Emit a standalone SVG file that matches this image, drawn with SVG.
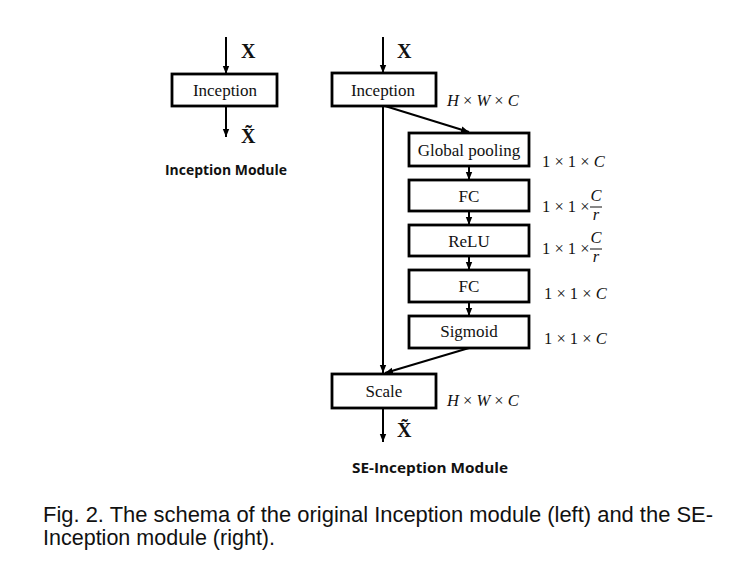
<svg xmlns="http://www.w3.org/2000/svg" width="732" height="575" viewBox="0 0 732 575">
<defs>
<marker id="ah" markerUnits="userSpaceOnUse" markerWidth="8" markerHeight="8" viewBox="0 0 8 8" refX="8" refY="4" orient="auto">
<path d="M0,0.8 L8,4 L0,7.2 Z" fill="#000"/>
</marker>
<style>
.box{fill:#fff;stroke:#000;stroke-width:2.8}
.lbl{font-family:"Liberation Serif","Times New Roman",serif;font-size:17px;fill:#111;text-anchor:middle}
.dim{font-family:"Liberation Serif","DejaVu Serif",serif;font-size:16.5px;fill:#111}
.it{font-style:italic}
.xl{font-family:"Liberation Serif","DejaVu Serif",serif;font-size:20px;font-weight:bold;fill:#111}
.title{font-family:"Open Sans","Liberation Sans",sans-serif;font-size:14.5px;font-weight:bold;fill:#111;text-anchor:middle}
.cap{font-family:"Liberation Sans",Arial,sans-serif;font-size:22px;fill:#111}
.ln{stroke:#000;stroke-width:2;fill:none}
</style>
</defs>
<rect width="732" height="575" fill="#fff"/>

<g id="connectors">
<line class="ln" x1="226" y1="37" x2="226" y2="74" marker-end="url(#ah)"/>
<line class="ln" x1="226" y1="106" x2="226" y2="137" marker-end="url(#ah)"/>
<line class="ln" x1="383" y1="37" x2="383" y2="73" marker-end="url(#ah)"/>
<line class="ln" x1="383" y1="106" x2="383" y2="373" marker-end="url(#ah)"/>
<line class="ln" x1="385" y1="106" x2="469" y2="132" marker-end="url(#ah)"/>
<line class="ln" x1="469" y1="166" x2="469" y2="180" marker-end="url(#ah)"/>
<line class="ln" x1="469" y1="211" x2="469" y2="225" marker-end="url(#ah)"/>
<line class="ln" x1="469" y1="256" x2="469" y2="270" marker-end="url(#ah)"/>
<line class="ln" x1="469" y1="302" x2="469" y2="316" marker-end="url(#ah)"/>
<line class="ln" x1="469" y1="348" x2="385" y2="373" marker-end="url(#ah)"/>
<line class="ln" x1="383" y1="408" x2="383" y2="442" marker-end="url(#ah)"/>
</g>

<g id="left-x">
<text class="xl" x="241" y="58">X</text>
<text class="xl" x="241" y="143">X̃</text>
</g>

<g id="inception-left">
<rect class="box" x="172" y="74" width="105" height="32"/>
<text class="lbl" x="225" y="96">Inception</text>
</g>
<text class="title" x="226" y="175" textLength="122" lengthAdjust="spacingAndGlyphs">Inception Module</text>

<g id="right-x">
<text class="xl" x="397" y="58">X</text>
<text class="xl" x="397" y="437">X̃</text>
</g>

<g id="inception-right">
<rect class="box" x="332" y="73" width="104" height="33"/>
<text class="lbl" x="383" y="96">Inception</text>
<text class="dim" x="447" y="106"><tspan class="it">H</tspan> × <tspan class="it">W</tspan> × <tspan class="it">C</tspan></text>
</g>

<g id="global-pooling">
<rect class="box" x="409" y="133" width="120" height="33"/>
<text class="lbl" x="469" y="156">Global pooling</text>
<text class="dim" x="542" y="167">1 × 1 × <tspan class="it">C</tspan></text>
</g>

<g id="fc1">
<rect class="box" x="409" y="180" width="120" height="31"/>
<text class="lbl" x="469" y="202">FC</text>
<text class="dim" x="542" y="212">1 × 1 ×</text>
<text class="dim it" x="596" y="201" text-anchor="middle">C</text>
<line x1="590" y1="207" x2="602" y2="207" stroke="#111" stroke-width="1"/>
<text class="dim it" x="596" y="220" text-anchor="middle">r</text>
</g>

<g id="relu">
<rect class="box" x="409" y="225" width="120" height="31"/>
<text class="lbl" x="469" y="247">ReLU</text>
<text class="dim" x="542" y="254">1 × 1 ×</text>
<text class="dim it" x="596" y="243" text-anchor="middle">C</text>
<line x1="590" y1="249" x2="602" y2="249" stroke="#111" stroke-width="1"/>
<text class="dim it" x="596" y="262" text-anchor="middle">r</text>
</g>

<g id="fc2">
<rect class="box" x="409" y="270" width="120" height="32"/>
<text class="lbl" x="469" y="292">FC</text>
<text class="dim" x="544" y="299">1 × 1 × <tspan class="it">C</tspan></text>
</g>

<g id="sigmoid">
<rect class="box" x="409" y="316" width="120" height="32"/>
<text class="lbl" x="469" y="337">Sigmoid</text>
<text class="dim" x="544" y="344">1 × 1 × <tspan class="it">C</tspan></text>
</g>

<g id="scale">
<rect class="box" x="332" y="374" width="104" height="34"/>
<text class="lbl" x="384" y="397">Scale</text>
<text class="dim" x="447" y="406"><tspan class="it">H</tspan> × <tspan class="it">W</tspan> × <tspan class="it">C</tspan></text>
</g>
<text class="title" x="430" y="473" textLength="156" lengthAdjust="spacingAndGlyphs">SE-Inception Module</text>

<g id="caption">
<text class="cap" x="43" y="522" textLength="670" lengthAdjust="spacingAndGlyphs">Fig. 2. The schema of the original Inception module (left) and the SE-</text>
<text class="cap" x="43" y="545" textLength="232" lengthAdjust="spacingAndGlyphs">Inception module (right).</text>
</g>
</svg>
